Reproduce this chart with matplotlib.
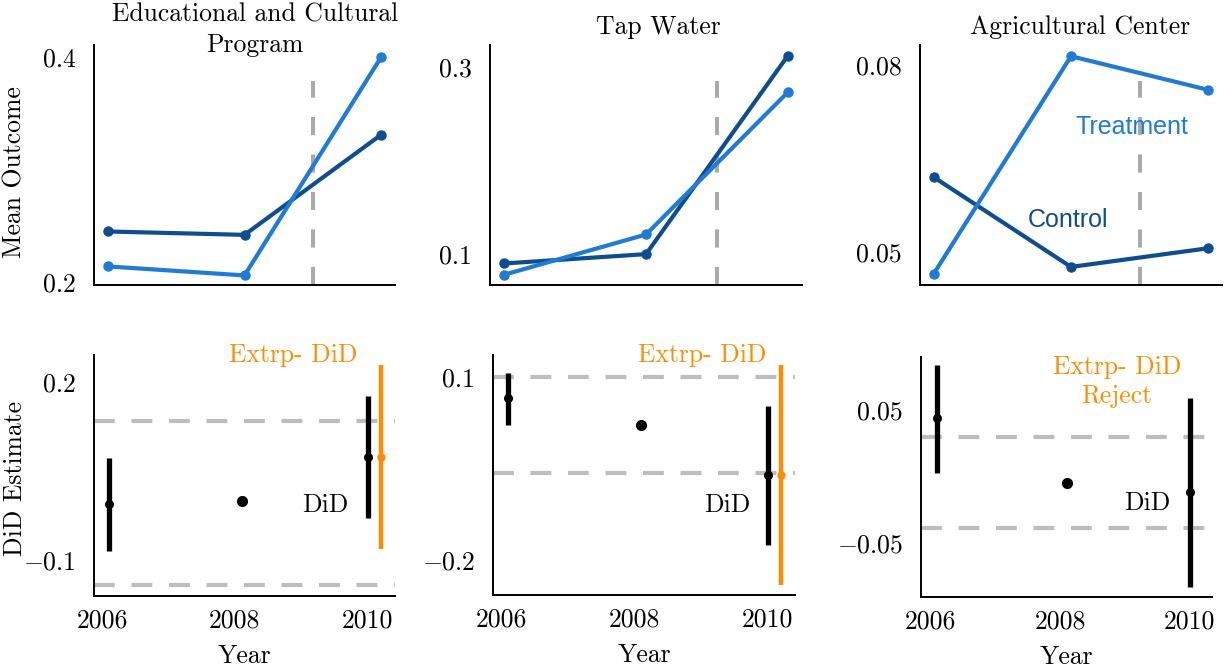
import matplotlib
matplotlib.use("Agg")
import matplotlib.pyplot as plt
import numpy as np

plt.rcParams['font.family'] = 'cmr10'
plt.rcParams['mathtext.fontset'] = 'cm'
plt.rcParams['axes.formatter.use_mathtext'] = True
plt.rcParams['axes.unicode_minus'] = False

# ---- data ----
years = [2006, 2008, 2010]
titles = ['Educational and Cultural\nProgram', 'Tap Water', 'Agricultural Center']

edu_treat = [0.214, 0.206, 0.400]
edu_ctrl = [0.245, 0.242, 0.331]
tap_treat = [0.078, 0.121, 0.273]
tap_ctrl = [0.090, 0.100, 0.312]
agr_treat = [0.0465, 0.0814, 0.0760]
agr_ctrl = [0.0620, 0.0476, 0.0506]

edu_did = [-0.005, 0.0, 0.074]
edu_lo = [-0.085, np.nan, -0.029]
edu_hi = [0.072, np.nan, 0.176]
edu_ext = [0.074, -0.081, 0.229]
edu_band = [-0.142, 0.134]

tap_did = [0.066, 0.021, -0.060]
tap_lo = [0.021, np.nan, -0.175]
tap_hi = [0.107, np.nan, 0.052]
tap_ext = [-0.060, -0.241, 0.120]
tap_band = [-0.057, 0.100]

agr_did = [0.044, -0.0049, -0.0117]
agr_lo = [0.0026, np.nan, -0.083]
agr_hi = [0.084, np.nan, 0.059]
agr_band = [-0.0387, 0.0297]

top_ticks = [[0.2, 0.4], [0.1, 0.3], [0.05, 0.08]]
top_labels = [['0.2', '0.4'], ['0.1', '0.3'], ['0.05', '0.08']]
top_ylim = [(0.1975, 0.4105), (0.067, 0.3235), (0.0447, 0.0832)]
bot_ticks = [[-0.1, 0.2], [-0.2, 0.1], [-0.05, 0.05]]
bot_labels = [['$-0.1$', '0.2'], ['$-0.2$', '0.1'], ['$-0.05$', '0.05']]
bot_ylim = [(-0.161, 0.2455), (-0.257, 0.136), (-0.0906, 0.090)]

TREAT = '#1f7bd3'
CTRL = '#0e4d8e'
ORANGE = '#ff8c00'
FS = 18.5

fig = plt.figure(figsize=(12.25, 6.7), dpi=100)
W, H = 1225, 670


def px_axes(l, t, r, b):
    return fig.add_axes([l / W, 1 - b / H, (r - l) / W, (b - t) / H])


top_boxes = [(94, 45, 395, 285), (490, 45, 802, 285), (920, 45, 1222, 285)]
bot_boxes = [(94, 355, 395, 596), (493, 355, 795, 595), (921, 357, 1212, 597)]


def style(ax):
    for s in ['top', 'right']:
        ax.spines[s].set_visible(False)
    for s in ['left', 'bottom']:
        ax.spines[s].set_linewidth(1.4)
    ax.tick_params(length=0, labelsize=FS, pad=13)


treats = [edu_treat, tap_treat, agr_treat]
ctrls = [edu_ctrl, tap_ctrl, agr_ctrl]
for i in range(3):
    ax = px_axes(*top_boxes[i])
    style(ax)
    ax.axvline(2009, ymin=0, ymax=0.85, color='#aaaaaa', lw=2.9,
               dashes=(4.5, 4.8), zorder=1)
    ax.plot(years, ctrls[i], color=CTRL, lw=3.0, marker='o', ms=6.5, zorder=3)
    ax.plot(years, treats[i], color=TREAT, lw=3.0, marker='o', ms=6.5, zorder=3)
    ax.set_xlim(2005.8, 2010.2)
    ax.set_ylim(*top_ylim[i])
    ax.set_xticks([])
    ax.set_yticks(top_ticks[i])
    ax.set_yticklabels(top_labels[i])
    if i == 2:
        ax.text(0.702, 0.658, 'Treatment', transform=ax.transAxes, color=TREAT,
                family='Liberation Sans', fontsize=18, ha='center', va='center')
        ax.text(0.49, 0.271, 'Control', transform=ax.transAxes, color=CTRL,
                family='Liberation Sans', fontsize=18, ha='center', va='center')

fig.text(255 / W, 1 - 30 / H, titles[0], ha='center', va='center', fontsize=FS,
         linespacing=1.4)
fig.text(658 / W, 1 - 27 / H, titles[1], ha='center', va='center', fontsize=FS)
fig.text(1080 / W, 1 - 27 / H, titles[2], ha='center', va='center', fontsize=FS)
fig.text(15 / W, 1 - 172 / H, 'Mean Outcome', rotation=90, ha='center',
         va='center', fontsize=FS)
fig.text(15 / W, 1 - 478 / H, 'DiD Estimate', rotation=90, ha='center',
         va='center', fontsize=FS)

dids = [edu_did, tap_did, agr_did]
los = [edu_lo, tap_lo, agr_lo]
his = [edu_hi, tap_hi, agr_hi]
bands = [edu_band, tap_band, agr_band]
exts = [edu_ext, tap_ext, None]
offs = [0.1, 0.1, 0.0]
bx_lims = [(2005.88, 2010.41), (2005.88, 2010.41), (2005.86, 2010.34)]
ext_pos = [(0.661, 1.0), (0.692, 1.0), (0.674, 1.008)]
did_pos = [(0.767, 0.378), (0.775, 0.375), (0.777, 0.392)]

for i in range(3):
    ax = px_axes(*bot_boxes[i])
    style(ax)
    for b in bands[i]:
        ax.axhline(b, color='#bdbdbd', lw=3.0, dashes=(5.0, 4.0), zorder=1)
    xs = [y + o for y, o in zip(years, offs)]
    for x, v, lo, hi in zip(xs, dids[i], los[i], his[i]):
        if not np.isnan(lo):
            ax.plot([x, x], [lo, hi], color='black', lw=3.8,
                    solid_capstyle='butt', zorder=3)
            ax.plot(x, v, 'o', color='black', ms=5.5, zorder=4)
        else:
            ax.plot(x, v, 'o', color='black', ms=7, zorder=4)
    if exts[i] is not None:
        e = exts[i]
        ax.plot([2010.2, 2010.2], [e[1], e[2]], color=ORANGE, lw=3.2,
                solid_capstyle='butt', zorder=3)
        ax.plot(2010.2, e[0], 'o', color=ORANGE, ms=5, zorder=4)
    ax.set_xlim(*bx_lims[i])
    ax.set_ylim(*bot_ylim[i])
    ax.set_xticks(years)
    ax.set_xticklabels([str(y) for y in years])
    ax.tick_params(axis='x', pad=9)
    ax.set_yticks(bot_ticks[i])
    ax.set_yticklabels(bot_labels[i])
    ax.set_xlabel('Year', fontsize=FS, labelpad=9)
    ext_text = 'Extrp- DiD' if i < 2 else 'Extrp- DiD\nReject'
    ax.text(ext_pos[i][0], ext_pos[i][1], ext_text, transform=ax.transAxes,
            color=ORANGE, fontsize=FS, ha='center', va='top' if i == 2 else 'center',
            linespacing=1.3)
    ax.text(did_pos[i][0], did_pos[i][1], 'DiD', transform=ax.transAxes,
            fontsize=FS, ha='center', va='center')

fig.savefig('out.png', dpi=100)
